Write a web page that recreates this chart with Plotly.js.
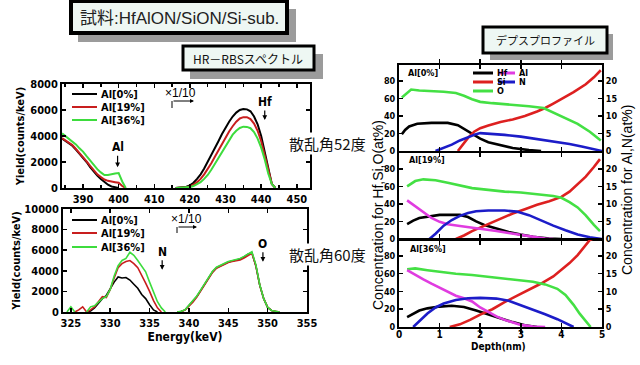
<!DOCTYPE html>
<html><head><meta charset="utf-8">
<script src="https://cdn.plot.ly/plotly-3.0.1.min.js"></script>
<style>html,body{margin:0;padding:0;background:#fff}#c{width:640px;height:365px}</style>
</head><body><div id="c"></div>
<script>
// ---------- HR-RBS spectrum, scattering angle 52 deg ----------
const E52 = [384.1,385,386,387,388,389,390,391,392,393,394,395,396,397,398,399,400,401,402,409,416,417,418,419,420,421,422,423,424,425,426,427,428,429,430,431,432,433,434,435,436,437,438,439,440,441,442,443,444];
const Y52_Al0  = [3800,3650,3450,3250,2950,2650,2350,2000,1600,1250,950,700,450,250,120,30,0,null,null,null,0,20,50,100,200,400,700,1050,1500,2000,2500,3050,3600,4150,4650,5100,5500,5800,6000,6080,6050,5900,5500,4900,4000,2800,1400,300,0];
const Y52_Al19 = [3850,3700,3500,3300,3000,2700,2400,2050,1700,1350,1050,850,650,550,480,450,400,150,0,null,0,10,30,60,120,250,450,700,1050,1450,1900,2400,2900,3400,3900,4350,4750,5100,5350,5450,5450,5300,4950,4400,3600,2500,1250,300,0];
const Y52_Al36 = [4200,4000,3800,3600,3350,3050,2800,2450,2100,1750,1450,1200,1000,1000,1080,1120,1150,500,0,null,0,10,20,40,70,150,280,450,700,1000,1400,1850,2300,2800,3250,3700,4100,4400,4620,4720,4700,4600,4300,3800,3100,2200,1100,300,0];

// ---------- HR-RBS spectrum, scattering angle 60 deg ----------
const E60 = [324.5,325,325.5,326,326.5,327,327.5,328,328.5,329,329.5,330,330.5,331,331.5,332,332.5,333,333.5,334,334.5,335,335.5,336,336.5,337,338,338.5,339,339.5,340,340.5,341,341.5,342,342.5,343,343.5,344,344.5,345,345.5,346,346.5,347,347.5,348,348.5,349,349.5,350,350.5,351,351.5];
const Y60_Al0  = [null,null,null,null,null,0,100,400,900,1300,1600,2300,2900,3400,3300,3350,3100,2700,2300,1700,1300,700,200,0,null,null,null,0,50,200,600,1000,1500,2100,2700,3300,3900,4300,4500,4700,4850,4950,5050,5150,5350,5600,5750,4500,2600,1300,450,150,50,0];
const Y60_Al19 = [null,null,0,200,500,0,200,500,1000,1500,1400,2200,3300,4300,4700,4900,5000,4700,4300,3600,2800,2000,1100,400,0,null,null,0,40,180,550,950,1450,2050,2650,3250,3850,4250,4450,4650,4800,4900,4950,5050,5250,5500,5700,4500,2600,1300,450,150,50,0];
const Y60_Al36 = [0,500,0,null,null,0,500,600,1000,1300,1500,2200,3500,4500,5000,5200,5800,5500,5000,4500,3900,2900,2000,1000,400,0,null,0,60,220,650,1050,1550,2150,2750,3350,3950,4350,4550,4750,4900,5000,5100,5200,5400,5650,5850,4600,2650,1300,450,150,50,0];

const SPEC_NAMES = ['Al[0%]','Al[19%]','Al[36%]'];

// ---------- Depth profiles (Hf,Si,O left axis; Al,N right axis, at%) ----------
const D0_Hf = [0.07,0.15,0.25,0.45,0.8,1.2,1.45,1.6,1.8,2.0,2.2,2.5,2.8,3.2,3.5];
const C0_Hf = [19,24,28,31,32,32,29.5,25,19,14,10,6.5,3.5,1,0];
const D0_Si = [1.45,1.55,1.7,1.85,2.0,2.2,2.5,2.8,3.1,3.4,3.6,3.8,4.0,4.3,4.6,4.8,4.97];
const C0_Si = [0,6,15,22,26,29,33,36,40,45,49,54,59,67,76,84,92];
const D0_O  = [0.07,0.2,0.3,0.5,0.8,1.1,1.4,1.6,1.8,2.0,2.3,2.6,2.9,3.2,3.56,3.8,4.1,4.4,4.7,4.97];
const C0_O  = [61,66,70,69,68.5,67.5,66,63,59,56,54.5,53.5,52,51,49,44,38,31,22,12];
const D0_N  = [0.9,1.1,1.3,1.5,1.7,1.9,2.0,2.3,2.6,3.0,3.4,3.8,4.2,4.5,4.8,5.0];
const C0_N  = [0,0.8,1.8,3.0,4.0,4.8,5.1,4.9,4.6,4.1,3.4,2.8,2.0,1.3,0.5,0];

const D19_Hf = [0.2,0.35,0.5,0.8,1.0,1.5,1.7,1.9,2.1,2.4,2.7,3.0,3.3,3.7,4.0];
const C19_Hf = [17,21,24,26.5,27.5,27.5,25,20,16,12,8,5,2.5,0.5,0];
const D19_Si = [1.4,1.6,1.8,2.0,2.2,2.5,2.8,3.1,3.4,3.7,4.0,4.2,4.4,4.6,4.8,4.95];
const C19_Si = [0,4,9,13,17,23,29,34,39,43,48,54,62,71,82,91];
const D19_O  = [0.2,0.4,0.6,0.9,1.2,1.5,1.8,2.2,2.6,3.0,3.4,3.8,4.0,4.2,4.4,4.6,4.8,4.95];
const C19_O  = [60,66,68,67,64,61,58,56,54,53,51,49,47,42,36,27,16,9];
const D19_Al = [0.2,0.4,0.6,0.8,1.0,1.2,1.5,1.8,2.1,2.4,2.7,3.0,3.3,3.6,3.8];
const C19_Al = [11,9.3,7.6,6,4.9,4.2,3.7,3.3,2.9,2.3,1.7,1.1,0.5,0.1,0];
const D19_N  = [0.75,0.9,1.1,1.3,1.5,1.7,1.9,2.2,2.6,2.9,3.2,3.5,3.8,4.1,4.4,4.7,5.0];
const C19_N  = [0,1.5,3.8,5.4,6.6,7.4,7.9,8.1,8.1,7.8,6.8,5.2,3.8,2.5,1.3,0.5,0];

const D36_Hf = [0.2,0.35,0.5,0.7,1.0,1.3,1.6,1.9,2.2,2.5,2.8,3.1,3.4];
const C36_Hf = [11,15,18.5,21,23,24,22.5,18.5,14,9.5,5.5,2,0];
const D36_Si = [1.25,1.5,1.75,2.0,2.3,2.6,2.9,3.2,3.5,3.8,4.0,4.2,4.4,4.55,4.7,4.8];
const C36_Si = [0,3,8,14,20,28,35,42,49,57,64,72,81,90,98,100];
const D36_O  = [0.2,0.4,0.7,1.0,1.4,1.8,2.2,2.6,3.0,3.3,3.6,3.9,4.1,4.3,4.45,4.6,4.72];
const C36_O  = [65,66,64,62,60,58.5,56.5,55,53,51,48,43,36,25,15,6,0];
const D36_Al = [0.2,0.4,0.6,0.8,1.0,1.2,1.4,1.6,1.8,2.0,2.2,2.4,2.6,2.8,3.0,3.3,3.6];
const C36_Al = [16,14.6,13.4,12.2,11,9.8,8.8,8.1,7.2,5.5,4.2,3,2,1.2,0.6,0.1,0];
const D36_N  = [0.35,0.5,0.7,0.9,1.1,1.4,1.7,2.0,2.4,2.7,3.0,3.3,3.6,3.9,4.1,4.3];
const C36_N  = [0,1.6,3.8,5.5,6.6,7.6,8.1,8.2,8.0,7.4,6.2,5.0,3.6,2.2,1.1,0];

const LEFT_TICKS  = [0,20,40,60,80];
const RIGHT_TICKS = [0,5,10,15,20];
const PANEL_LABELS = ['Al[0%]','Al[19%]','Al[36%]'];
const ELEMENTS = ['Hf','Al','Si','N','O'];

// ---------- styling ----------
const FT = '"Liberation Sans Narrow","Arial Narrow","DejaVu Sans Condensed","Liberation Sans",Arial,sans-serif';
const LS = '"Liberation Sans",Arial,sans-serif';
const JP = '"Noto Sans CJK JP","Noto Sans",sans-serif';
const SPEC_COL = ['#000000','#c81e1e','#3ddc3d'];
const EL_COL = {Hf:'#000000', Al:'#e03ce0', Si:'#dd2020', N:'#1c1cc8', O:'#44e044'};
const W = 640, H = 365;
const px = x => x / W, py = y => 1 - y / H;

function tr(x, y, col, w, xa, ya) {
  return {x, y, type:'scatter', mode:'lines', line:{color:col, width:w}, xaxis:xa, yaxis:ya,
          showlegend:false, connectgaps:false, hoverinfo:'skip'};
}
const traces = [
  tr(E52, Y52_Al0,  SPEC_COL[0], 2, 'x', 'y'),
  tr(E52, Y52_Al19, SPEC_COL[1], 2, 'x', 'y'),
  tr(E52, Y52_Al36, SPEC_COL[2], 2, 'x', 'y'),
  tr(E60, Y60_Al0,  SPEC_COL[0], 1.6, 'x2', 'y2'),
  tr(E60, Y60_Al19, SPEC_COL[1], 1.6, 'x2', 'y2'),
  tr(E60, Y60_Al36, SPEC_COL[2], 1.6, 'x2', 'y2'),
  tr(D0_Hf, C0_Hf, EL_COL.Hf, 2.6, 'x3', 'y3'),
  tr(D0_Si, C0_Si, EL_COL.Si, 2.6, 'x3', 'y3'),
  tr(D0_O,  C0_O,  EL_COL.O,  2.6, 'x3', 'y3'),
  tr(D0_N,  C0_N,  EL_COL.N,  2.6, 'x3', 'y4'),
  tr(D19_Hf, C19_Hf, EL_COL.Hf, 2.6, 'x4', 'y5'),
  tr(D19_Si, C19_Si, EL_COL.Si, 2.6, 'x4', 'y5'),
  tr(D19_O,  C19_O,  EL_COL.O,  2.6, 'x4', 'y5'),
  tr(D19_Al, C19_Al, EL_COL.Al, 2.6, 'x4', 'y6'),
  tr(D19_N,  C19_N,  EL_COL.N,  2.6, 'x4', 'y6'),
  tr(D36_Hf, C36_Hf, EL_COL.Hf, 2.6, 'x5', 'y7'),
  tr(D36_Si, C36_Si, EL_COL.Si, 2.6, 'x5', 'y7'),
  tr(D36_O,  C36_O,  EL_COL.O,  2.6, 'x5', 'y7'),
  tr(D36_Al, C36_Al, EL_COL.Al, 2.6, 'x5', 'y8'),
  tr(D36_N,  C36_N,  EL_COL.N,  2.6, 'x5', 'y8')
];

const tickFont = s => ({family:FT, size:s, color:'#000', weight:'bold'});
function axis(o) {
  return Object.assign({showline:true, linewidth:2, linecolor:'#000', mirror:'allticks',
    ticks:'inside', ticklen:4, tickwidth:1.5, tickcolor:'#000', showgrid:false, zeroline:false,
    fixedrange:true, tickformat:'d'}, o);
}

const domL1 = [px(62), px(310)], domL1y = [py(188), py(84)];
const domL2 = [px(63), px(307)], domL2y = [py(312), py(209)];
const domR = [px(399), px(602)];
const domR1 = [py(151), py(65)], domR2 = [py(239), py(153)], domR3 = [py(327), py(240)];

const layout = {
  width: W, height: H, margin:{l:0,r:0,t:0,b:0}, paper_bgcolor:'#fff', plot_bgcolor:'#fff',
  showlegend:false,
  xaxis: axis({domain:domL1, anchor:'y', range:[384.1,453.7], tick0:390, dtick:10, tickfont:tickFont(11),
               minor:{dtick:5, ticks:'inside', ticklen:3, tickcolor:'#000'}}),
  yaxis: axis({domain:domL1y, anchor:'x', range:[0,8000], dtick:2000, tickfont:tickFont(11),
               title:{text:'Yield(counts/keV)', font:tickFont(11), standoff:3}}),
  xaxis2: axis({domain:domL2, anchor:'y2', range:[324,355], tick0:325, dtick:5, tickfont:tickFont(11),
               title:{text:'Energy(keV)', font:tickFont(12), standoff:0}}),
  yaxis2: axis({domain:domL2y, anchor:'x2', range:[0,10000], dtick:2000, tickfont:tickFont(11),
               title:{text:'Yield(counts/keV)', font:tickFont(11), standoff:2}}),
  xaxis3: axis({domain:domR, anchor:'y3', range:[0,5], dtick:1, showticklabels:false, matches:'x5'}),
  yaxis3: axis({domain:domR1, anchor:'x3', range:[0,98], tickvals:LEFT_TICKS, tickfont:tickFont(9), mirror:true}),
  yaxis4: axis({overlaying:'y3', side:'right', anchor:'x3', range:[0,24.5], tickvals:RIGHT_TICKS, tickfont:tickFont(9), mirror:false}),
  xaxis4: axis({domain:domR, anchor:'y5', range:[0,5], dtick:1, showticklabels:false, matches:'x5'}),
  yaxis5: axis({domain:domR2, anchor:'x4', range:[0,98], tickvals:LEFT_TICKS, tickfont:tickFont(9), mirror:true}),
  yaxis6: axis({overlaying:'y5', side:'right', anchor:'x4', range:[0,24.5], tickvals:RIGHT_TICKS, tickfont:tickFont(9), mirror:false}),
  xaxis5: axis({domain:domR, anchor:'y7', range:[0,5], dtick:1, tickfont:tickFont(10), ticklabelstandoff:-3}),
  yaxis7: axis({domain:domR3, anchor:'x5', range:[0,98], tickvals:LEFT_TICKS, tickfont:tickFont(9), mirror:true}),
  yaxis8: axis({overlaying:'y7', side:'right', anchor:'x5', range:[0,24.5], tickvals:RIGHT_TICKS, tickfont:tickFont(9), mirror:false}),
  shapes: [], annotations: []
};

function rect(x0,y0,x1,y1,fill,lw) {
  return {type:'rect', xref:'paper', yref:'paper', x0:px(x0), x1:px(x1), y0:py(y1), y1:py(y0),
          fillcolor:fill, line:{color:'#000', width:lw}, layer:'above'};
}
function seg(x0,y0,x1,y1,col,w) {
  return {type:'line', xref:'paper', yref:'paper', x0:px(x0), x1:px(x1), y0:py(y0), y1:py(y1),
          line:{color:col, width:w}, layer:'above'};
}
function txt(x,y,text,font,o) {
  return Object.assign({xref:'paper', yref:'paper', x:px(x), y:py(y), text, showarrow:false,
          font, xanchor:'center', yanchor:'middle'}, o||{});
}
const S = layout.shapes, A = layout.annotations;
S.push(rect(78,9,296,42,'#9b9b9b',0), rect(71,1,287,33,'#eef7f3',4));
S.push(rect(190,54,323,79,'#9b9b9b',0), rect(183,46,314,70,'#eef7f3',3));
S.push(rect(490,34,613,60,'#9b9b9b',0), rect(483,27,607,53,'#eef7f3',3));
A.push(txt(179,18,'試料:HfAlON/SiON/Si-sub.', {family:'"Liberation Sans",'+JP, size:17, color:'#222'}));
A.push(txt(248,58,'HR－RBSスペクトル', {family:JP, size:12, color:'#111'}));
A.push(txt(545,40,'デプスプロファイル', {family:JP, size:11, color:'#111'}));

A.push(txt(288,143,'散乱角52度', {family:JP, size:15, color:'#111'}, {xanchor:'left', bgcolor:'#fff', borderpad:0}));
A.push(txt(288,254,'散乱角60度', {family:JP, size:15, color:'#111'}, {xanchor:'left', bgcolor:'#fff', borderpad:0}));

const legY1 = [94,107,120], legY2 = [220,233,247];
SPEC_NAMES.forEach((n,i) => {
  S.push(seg(72,legY1[i],97,legY1[i],SPEC_COL[i],2));
  S.push(seg(72,legY2[i],97,legY2[i],SPEC_COL[i],2));
  A.push(txt(99,legY1[i],n,tickFont(11),{xanchor:'left'}));
  A.push(txt(99,legY2[i],n,tickFont(11),{xanchor:'left'}));
});

A.push(txt(180,93,'×1/10',{family:LS, size:12, color:'#000'}));
S.push(seg(172,108,172,101,'#000',1));
A.push({xref:'paper', yref:'paper', x:px(194), y:py(101), ax:-22, ay:0, text:'', showarrow:true,
        arrowhead:2, arrowsize:0.8, arrowwidth:1, arrowcolor:'#000'});
A.push(txt(186,219,'×1/10',{family:LS, size:12, color:'#000'}));
S.push(seg(177,233,177,227,'#000',1));
A.push({xref:'paper', yref:'paper', x:px(197), y:py(227), ax:-20, ay:0, text:'', showarrow:true,
        arrowhead:2, arrowsize:0.8, arrowwidth:1, arrowcolor:'#000'});

function edge(xa, ya, x, y, t, ay) {
  return {xref:xa, yref:ya, x, y, ax:0, ay, text:t, showarrow:true, arrowhead:2, arrowsize:0.8,
          arrowwidth:1.2, arrowcolor:'#000', standoff:0, font:tickFont(12)};
}
A.push(edge('x','y',399.7,1600,'Al',-20));
A.push(edge('x','y',441,5230,'Hf',-18));
A.push(edge('x2','y2',336.6,4100,'N',-18));
A.push(edge('x2','y2',349.4,4870,'O',-18));

A.push(txt(406,73,PANEL_LABELS[0],tickFont(9),{xanchor:'left'}));
A.push(txt(407,160,PANEL_LABELS[1],tickFont(9),{xanchor:'left'}));
A.push(txt(408,249,PANEL_LABELS[2],tickFont(9),{xanchor:'left'}));
const keyPos = {Hf:[473,73], Al:[498,73], Si:[473,82], N:[498,82], O:[473,91]};
ELEMENTS.forEach(e => {
  const [x,y] = keyPos[e];
  const len = x < 490 ? 20 : 17;
  S.push(seg(x,y,x+len,y,EL_COL[e],3));
  A.push(txt(x+len+2,y,e,tickFont(9),{xanchor:'left'}));
});
A.push(txt(378,215,'Concentration for Hf,Si,O(at%)',{family:LS, size:14, color:'#000'},{textangle:-90}));
A.push(txt(627,190,'Concentration for Al,N(at%)',{family:LS, size:14, color:'#000'},{textangle:-90}));
A.push(txt(498,346,'Depth(nm)',tickFont(10)));

Plotly.newPlot('c', traces, layout, {staticPlot:true, displayModeBar:false});
</script>
</body></html>
